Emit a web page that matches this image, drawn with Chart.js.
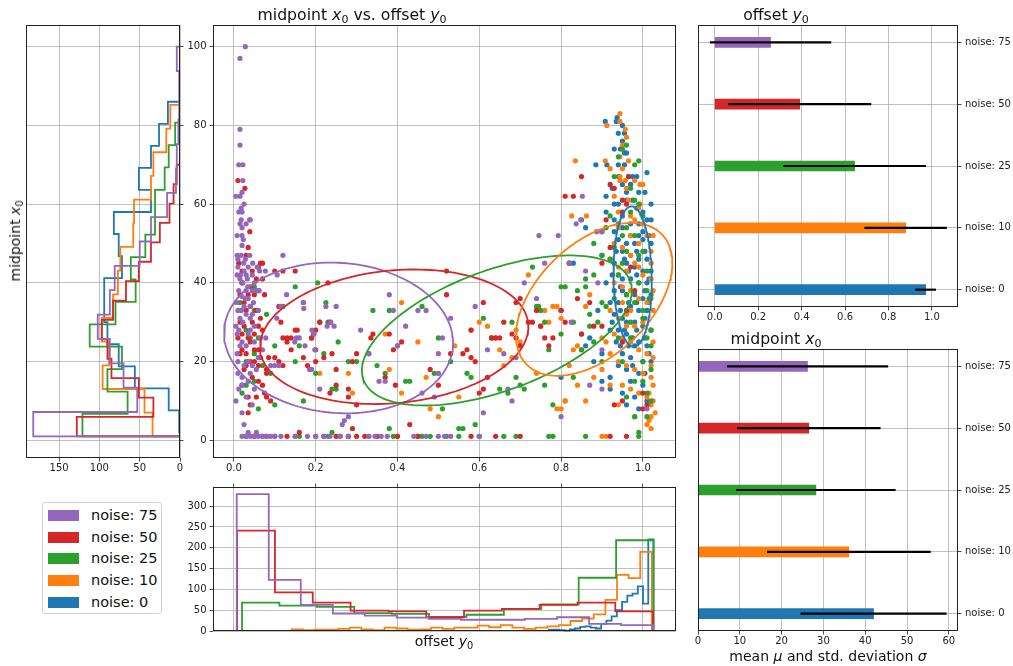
<!DOCTYPE html>
<html>
<head>
<meta charset="utf-8">
<script src="https://cdn.jsdelivr.net/npm/chart.js@4.4.0/dist/chart.umd.min.js"></script>
<style>
  html, body { margin: 0; padding: 0; background: #fff; }
  #fig { position: relative; width: 1013px; height: 666px; overflow: hidden;
         font-family: "DejaVu Sans", sans-serif; color: #111; }
  #fig canvas { position: absolute; left: 0; top: 0; }
  .txt { position: absolute; white-space: nowrap; transform: translate(-50%, -50%); line-height: 1; }
  .ttl { font-size: 15.7px; }
  .lbl { font-size: 14px; }
  .txt i { font-style: italic; }
  .txt sub { font-size: 0.7em; vertical-align: -0.3em; line-height: 0; }
  #ylab { transform: translate(-50%, -50%) rotate(-90deg); }
  #legend { position: absolute; left: 42px; top: 502px; width: 120px; height: 112px;
            border: 1px solid #d0d0d0; border-radius: 3px; background: #fff; box-sizing: border-box; }
  .row { position: absolute; left: 5px; height: 14px; font-size: 14.5px; }
  .sw { position: absolute; left: 0; top: 1px; width: 31px; height: 11px; }
  .row span { position: absolute; left: 43px; top: -2px; white-space: nowrap; color: #111; }
</style>
</head>
<body>
<div id="fig">
  <canvas id="cLeft" width="1013" height="666"></canvas>
  <canvas id="cMain" width="1013" height="666"></canvas>
  <canvas id="cBottom" width="1013" height="666"></canvas>
  <canvas id="cOffset" width="1013" height="666"></canvas>
  <canvas id="cMid" width="1013" height="666"></canvas>

  <div class="txt ttl" style="left:352px; top:15px;">midpoint <i>x</i><sub>0</sub> vs. offset <i>y</i><sub>0</sub></div>
  <div class="txt ttl" style="left:776px; top:15px;">offset <i>y</i><sub>0</sub></div>
  <div class="txt ttl" style="left:776px; top:339px;">midpoint <i>x</i><sub>0</sub></div>
  <div id="ylab" class="txt lbl" style="left:15px; top:241px;">midpoint <i>x</i><sub>0</sub></div>
  <div class="txt lbl" style="left:444px; top:641px;">offset <i>y</i><sub>0</sub></div>
  <div class="txt lbl" style="left:828px; top:656px;">mean <i>μ</i> and std. deviation <i>σ</i></div>

  <div id="legend"></div>
</div>

<script>
// ---- categories -------------------------------------------------------
const noiseLevels = [0, 10, 25, 50, 75];
const noiseLabels = noiseLevels.map(n => 'noise: ' + n);
const noiseColors = ['#1f77b4', '#ff7f0e', '#2ca02c', '#d62728', '#9467bd'];

// ---- summary statistics (mean / std) ----------------------------------
const offsetMean = [0.971, 0.879, 0.644, 0.391, 0.257];
const offsetStd  = [0.046, 0.188, 0.327, 0.328, 0.278];
const midMean    = [42.0, 36.1, 28.2, 26.5, 26.2];
const midStd     = [17.4, 19.5, 19.0, 17.1, 19.2];

// ---- histograms of offset y0 (range + counts per noise level) ---------
const offsetHistRange = [[0.77, 1.026], [0.141, 1.022], [0.02, 1.026], [0.008, 1.025], [0.007, 1.025]];
const offsetHist0  = [3, 3, 2, 1, 4, 6, 10, 11, 8, 6, 17, 25, 35, 50, 70, 85, 90, 107, 66, 220];
const offsetHist10 = [4, 2, 3, 3, 5, 8, 4, 2, 8, 6, 3, 4, 8, 5, 8, 8, 13, 9, 14, 8, 5, 8, 11, 14, 24, 30, 40, 75, 135, 127, 190];
const offsetHist25 = [68, 61, 58, 43, 41, 34, 39, 53, 64, 128, 218];
const offsetHist50 = [241, 93, 68, 49, 47, 33, 49, 53, 63, 68, 47];
const offsetHist75 = [329, 123, 63, 42, 37, 32, 29, 27, 27, 29, 33, 17, 14];

// ---- histograms of midpoint x0 ----------------------------------------
const midHistRange = [[2, 86], [1, 85.2], [1, 80.7], [1, 70], [1, 100]];
const midHist0  = [1, 14, 56, 76, 90, 94, 94, 72, 76, 82, 36, 51, 36, 26, 15];
const midHist10 = [34, 44, 96, 88, 97, 83, 77, 74, 58, 57, 36, 33, 17, 12];
const midHist25 = [121, 65, 90, 72, 112, 80, 55, 61, 43, 31, 31, 19, 14, 6];
const midHist50 = [128, 33, 51, 85, 90, 97, 83, 67, 51, 36, 25, 13, 8, 4];
const midHist75 = [182, 53, 70, 87, 102, 87, 81, 50, 36, 16, 5, 4, 2, 1, 1, 4];

// ---- covariance ellipses: centre (y0, x0), half-extent along y0, and x0 components
const ellCx = [0.975, 0.881, 0.643, 0.392, 0.256];
const ellCy = [41.6, 35.8, 27.9, 26.3, 26.0];
const ellA  = [0.047, 0.191, 0.330, 0.328, 0.280];
const ellB  = [-1.0, 9.2, 10.2, 2.54, -1.27];
const ellC  = [17.8, 17.1, 16.1, 16.9, 19.1];

// ---- fitted (offset y0, midpoint x0) pairs ----------------------------
const fits0 = [
  [0.908,81],[0.935,81],[0.937,82],[0.94,78],[0.955,78],[0.95,76],[0.945,74],[0.955,73],[0.96,73],[0.885,70],
  [0.912,70],[0.94,70],[0.955,70],[0.94,67],[0.965,67],[0.975,67],[0.985,67],[1.01,68],[0.91,62],[0.925,64],
  [0.95,65],[0.97,65],[1.005,63],[0.93,60],[0.96,61],[0.975,61],[0.91,58],[1.0,58],[0.93,56],[0.85,56],
  [0.86,54],[0.9,53],[0.93,53],[0.95,54],[0.97,52],[0.99,55],[1.01,56],[1.02,56],
  [0.94,51],[0.96,50],[0.98,50],[1.0,51],[1.02,50],[0.95,48],[0.97,47],[0.99,46],[1.01,46],[0.93,45],
  [0.96,45],[0.98,44],[1.0,43],[1.02,43],[0.94,42],[0.95,41],[0.97,41],[0.99,40],[1.01,40],[0.93,38],
  [0.95,38],[0.96,37],[0.98,37],[1.0,36],[1.02,37],[0.92,35],[0.94,35],[0.97,34],[0.99,33],[1.01,33],
  [0.93,32],[0.95,31],[0.96,30],[0.98,30],[1.0,29],[1.02,28],[0.94,28],[0.96,27],[0.975,26],[0.99,25],
  [0.965,24],[0.98,24],[1.01,24],[0.95,22],[0.97,21],[1.0,20],[1.02,20],[0.94,19],[0.96,18],[0.99,17],
  [0.92,16],[0.97,15],[1.0,14],[0.95,12],[0.98,11],[1.01,10],[0.99,8],[0.96,9],
  [0.9,22],[0.88,20],[0.86,24],[0.87,26],[0.85,27],[0.9,15],[0.8,16],[0.92,13],[0.83,45],[0.92,28],
  [0.89,33],[0.91,40],[0.9,47],
  [0.935,48],[0.955,46],[0.985,48],[1.005,48],[1.015,52],[0.925,42],[0.945,39],[0.965,43],[0.985,42],[1.005,38],
  [1.015,41],[0.925,30],[0.945,33],[0.965,35],[0.985,35],[1.005,31],[1.015,35],[0.935,25],[0.955,28],[0.985,28],
  [1.005,26],[1.015,22],[0.945,24],[0.975,19],[1.005,17],[0.95,57],[0.97,55],[0.99,52],[1.0,53],[0.94,60],
  [0.985,59],[1.02,60],[0.96,63],[0.99,63],[0.93,74],[0.95,80]
];
const fits10 = [
  [0.21,17],[0.28,17],[0.29,12],[0.37,27],[0.38,18],[0.41,12],[0.41,35],[0.45,25],[0.47,16],[0.48,8],
  [0.5,17],[0.5,6],[0.54,24],[0.55,11],[0.58,28],[0.6,30],[0.62,29],[0.64,26],[0.65,23],[0.66,19],
  [0.68,21],[0.69,28],[0.7,25],[0.72,42],[0.74,17],[0.75,29],[0.76,33],[0.77,30],[0.78,34],[0.79,34],
  [0.8,31],[0.81,10],[0.79,8],[0.82,19],[0.83,23],[0.84,24],[0.85,23],[0.86,34],[0.87,37],[0.84,14],
  [0.86,10],[0.88,16],[0.9,26],[0.9,18],[0.91,25],[0.92,14],
  [0.835,71],[0.912,80],[0.944,83],[0.944,81],[0.957,79],[0.908,71],[0.944,72],[0.965,71],[0.944,67],[0.944,66],
  [0.957,66],[0.826,57],[0.862,57],[0.94,58],[0.965,61],[0.993,60],[0.99,59],[0.993,65],[1.0,65],[1.0,55],
  [0.95,69],[0.97,57],
  [0.93,50],[0.95,49],[0.97,52],[0.99,50],[1.01,52],[1.02,48],[0.92,46],[0.94,44],[0.96,43],[0.98,45],
  [1.0,42],[1.02,41],[0.93,40],[0.95,39],[0.97,38],[0.99,36],[1.01,35],[1.025,33],[0.92,33],[0.94,31],
  [0.96,32],[0.98,29],[1.0,30],[1.02,28],[0.93,27],[0.95,26],[0.97,25],[0.99,23],[1.01,22],[1.025,21],
  [0.92,22],[0.94,20],[0.96,19],[0.98,18],[1.0,17],[1.02,16],[1.025,14],[0.95,14],[0.97,13],[0.99,12],
  [1.01,11],[1.02,9],[1.03,7],[1.015,5],[1.02,3],[0.98,6],[0.94,9],
  [0.9,1],[0.91,1],[0.81,10],[0.8,8],
  [1.025,52],[1.02,45],[1.025,38],[1.02,36],[1.025,25],[1.02,19],[1.015,12],[1.025,10],[1.02,6],[1.01,4],
  [0.97,47],[0.99,44],[0.95,35],[0.97,33],[0.96,29],[0.94,54],[0.98,56],[0.93,62],[0.96,64],[0.98,66],
  [0.92,69],[0.95,75],[0.96,77]
];
const fits25 = [
  [0.02,40],[0.05,39],[0.015,35],[0.05,33],[0.08,32],[0.03,28],[0.04,26],[0.06,26],[0.05,22],[0.03,20],
  [0.07,19],[0.09,17],[0.05,15],[0.03,14],[0.02,12],[0.06,8],[0.1,9],[0.1,24],[0.12,34],[0.15,39],
  [0.16,24],[0.15,20],[0.17,10],[0.19,26],[0.195,27],[0.2,17],[0.205,40],[0.21,30],[0.22,22],[0.225,35],
  [0.23,30],[0.24,13],[0.25,13],[0.255,25],[0.28,20],[0.3,20],[0.33,22],[0.34,33],[0.35,19],[0.37,17],
  [0.38,33],[0.38,3],[0.4,24],[0.42,15],[0.43,15],[0.46,34],[0.49,17],[0.5,26],[0.51,8],[0.53,20],
  [0.55,3],[0.56,3],[0.57,17],[0.58,16],[0.59,4],[0.61,31],[0.63,26],[0.65,13],[0.67,12],[0.68,30],
  [0.69,16],[0.7,14],[0.71,13],[0.73,44],[0.74,34],[0.745,34],[0.75,33],[0.76,14],[0.77,23],[0.78,9],
  [0.8,39],[0.81,39],[0.8,33],[0.82,45],[0.83,16],[0.84,38],[0.85,23],[0.86,41],[0.87,32],[0.87,29],
  [0.88,25],[0.89,30],[0.9,47],[0.91,34],[0.92,46],[0.93,49],[0.93,36],[0.94,42],[0.95,45],[0.96,37],
  [0.97,30],[0.98,35],[0.99,40],[1.0,20],[1.01,26],[1.02,28],[0.95,52],[0.96,54],[0.97,58],[0.98,61],
  [0.99,60],[1.0,57],[0.93,67],[0.95,74],[0.96,75],[0.94,72],[0.97,64],[0.98,70],[0.99,71],[1.0,48],
  [1.01,43],[1.0,15],[1.01,12],[1.01,6],[0.99,2],[0.98,6],[1.02,18],[1.015,36],[0.92,57],[0.91,54],
  [0.88,50],[0.86,39],[0.9,20],[0.94,26],[1.02,24],[1.02,10],[1.0,33],
  [0.96,48],[0.98,52],[0.94,55],[0.99,47],[1.01,38],[1.0,31],[0.97,26],[0.95,20],[0.98,15],[0.96,11],
  [0.9,35],[0.88,42],[0.83,30],[0.8,27],[0.76,30],
  [0.03,1],[0.05,1],[0.15,1],[0.16,1],[0.23,1],[0.24,2],[0.26,1],[0.28,1],[0.33,1],[0.39,1],
  [0.4,1],[0.45,1],[0.46,1],[0.48,1],[0.52,1],[0.55,1],[0.6,1],[0.66,1],[0.69,1],[0.77,1],
  [0.78,1],[0.86,1],[0.99,1]
];
const fits50 = [
  [0.01,66],[0.027,64],[0.039,56],[0.039,53],[0.035,49],[0.03,47],[0.012,45],[0.065,45],[0.07,45],[0.06,44],
  [0.07,41],[0.02,40],[0.04,39],[0.06,38],[0.035,37],[0.05,37],[0.075,37],[0.025,35],[0.04,34],[0.015,30],
  [0.06,29],[0.025,29],[0.07,28],[0.01,26],[0.04,25],[0.02,23],[0.05,23],[0.06,23],[0.03,22],[0.015,22],
  [0.04,20],[0.05,20],[0.06,19],[0.08,18],[0.08,17],[0.06,15],[0.035,11],[0.08,11],[0.09,10],[0.035,7],
  [0.075,12],[0.03,19],[0.045,30],
  [0.02,43],[0.045,43],[0.055,41],[0.015,37],[0.03,33],[0.055,33],[0.065,31],[0.02,27],[0.05,27],[0.035,26],
  [0.065,21],[0.025,18],[0.045,16],[0.02,14],[0.07,14],[0.055,11],[0.04,9],[0.085,21],
  [0.1,43],[0.12,43],[0.15,43],[0.11,34],[0.115,30],[0.12,26],[0.13,26],[0.14,26],[0.15,28],[0.155,28],
  [0.13,25],[0.14,23],[0.1,21],[0.11,20],[0.12,19],[0.17,21],[0.18,19],[0.2,23],[0.21,30],[0.2,28],
  [0.19,26],[0.17,35],[0.22,21],[0.2,20],[0.23,40],[0.235,30],[0.24,22],[0.25,18],[0.25,14],[0.235,12],
  [0.28,13],[0.28,11],[0.29,20],[0.3,22],[0.335,26],[0.34,27],[0.37,16],[0.38,27],[0.39,23],[0.395,14],
  [0.41,25],[0.43,4],[0.48,18],[0.5,14],[0.52,43],[0.52,37],[0.53,22],[0.56,22],[0.57,23],[0.58,28],
  [0.59,20],[0.6,12],[0.61,13],[0.61,35],[0.62,16],[0.64,26],[0.65,26],[0.68,27],[0.69,26],[0.7,24],
  [0.7,36],[0.72,30],[0.73,30],[0.74,33],[0.75,29],[0.76,26],[0.77,24],[0.78,26],[0.8,33],[0.81,30],
  [0.82,45],[0.84,36],[0.85,27],[0.87,35],[0.88,29],[0.9,29],[0.85,67],[0.83,62],[0.81,62],[0.91,56],
  [0.92,49],[0.95,25],[0.96,33],[0.93,64],[0.92,65],[0.96,60],[0.95,61],[0.9,45],[0.97,44],[0.98,38],
  [1.0,12],[1.01,9],[1.0,8],[0.95,10],[0.93,9],[0.965,67],[0.95,58],[0.69,35],[0.66,30],[0.58,21],
  [0.63,26],[0.29,3],[0.3,9],
  [0.05,1],[0.07,1],[0.08,1],[0.1,1],[0.13,1],[0.16,2],[0.2,1],[0.22,1],[0.25,1],[0.28,1],
  [0.3,1],[0.32,1],[0.35,1],[0.4,1],[0.45,1],[0.58,1],[0.64,1],[0.7,1],[0.92,1],[0.96,1]
];
const fits75 = [
  [0.028,100],[0.015,97],[0.015,79],[0.015,75],[0.012,70],[0.022,70],[0.022,66],[0.02,63],[0.005,62],[0.015,62],
  [0.018,59],[0.02,58],[0.04,56],[0.018,56],[0.015,55],[0.02,54],[0.02,52],[0.023,51],[0.02,49.5],[0.008,47],
  [0.018,47],[0.039,47],[0.01,46],[0.024,45],[0.046,45],[0.057,44],[0.063,43],[0.077,43],[0.016,42],[0.03,42],
  [0.022,40],[0.034,39],[0.062,38],[0.045,38],[0.055,38],[0.02,36.5],[0.048,35],[0.01,33],[0.03,32],[0.005,29],
  [0.012,28],[0.008,27],[0.04,28],[0.02,25],[0.008,22],[0.035,20],[0.045,19],[0.09,19],[0.1,19],[0.11,19],
  [0.078,26],[0.07,23],[0.02,16],[0.035,15],[0.02,14],[0.05,13],[0.005,10],[0.02,7],[0.025,4],[0.03,38],
  [0.035,36],[0.025,34],[0.04,31],[0.05,29],[0.06,33],[0.065,26],[0.01,17],[0.015,31],[0.033,41],[0.045,42],
  [0.01,44],[0.015,41],[0.028,46],[0.035,44],[0.025,43],[0.012,38],[0.028,36],[0.04,34],[0.006,35],[0.018,33],
  [0.045,32],[0.022,30],[0.035,27],[0.05,25],[0.015,24],[0.03,24],[0.01,20],[0.025,19],[0.04,17],[0.055,18],
  [0.06,21],[0.012,13],[0.03,11],[0.045,9],[0.008,52],[0.03,55],[0.012,58],[0.025,60],[0.008,42],[0.05,40],
  [0.02,1],[0.03,1],[0.035,2],[0.04,1],[0.05,1],[0.055,2],[0.06,1],[0.07,1],[0.08,1],[0.09,1],
  [0.1,1],[0.115,1],[0.15,1],[0.18,1],[0.2,1],[0.22,1],[0.235,1],[0.26,1],[0.28,1],[0.33,1],
  [0.345,1],[0.36,1],[0.375,1],[0.44,1],[0.47,1],[0.5,1],[0.515,1],[0.53,1],
  [0.106,42],[0.129,37],[0.115,34],[0.171,33.5],[0.225,34],[0.228,29],[0.237,30],[0.25,34],[0.245,29],[0.191,28],
  [0.196,27],[0.153,26],[0.16,26],[0.149,25],[0.198,23],[0.174,24],[0.12,47],[0.105,31],[0.185,18],[0.19,18],
  [0.21,13],[0.265,4],[0.27,5],[0.28,6],[0.31,28],[0.33,22],[0.355,15],[0.37,15],[0.38,37],[0.39,33],
  [0.4,24],[0.42,29],[0.45,33],[0.47,33],[0.5,17],[0.51,26],[0.53,31],[0.5,22],[0.46,12],[0.49,11],
  [0.61,7],[0.59,34],[0.62,23],[0.66,22],[0.67,13],[0.68,10],[0.69,21],[0.71,40],[0.74,36],[0.76,45],
  [0.746,52],[0.793,52],[0.852,62],[0.837,55],[0.848,56],[0.82,45],[0.86,43],[0.89,40],[0.825,30],[0.87,14],
  [0.9,13],[1.01,8],[0.887,53],[0.9,53],[0.9,23],[0.8,6],[0.6,1],[0.17,35]
];

// ---- tick values ------------------------------------------------------
const offsetTicks = [0, 0.2, 0.4, 0.6, 0.8, 1.0];
const midTicks = [0, 20, 40, 60, 80, 100];
const countTicksLeft = [0, 50, 100, 150];
const countTicksBottom = [0, 50, 100, 150, 200, 250, 300];
const meanTicks = [0, 10, 20, 30, 40, 50, 60];
const barIndexTicks = [0, 1, 2, 3, 4];

const offsetHists = [offsetHist0, offsetHist10, offsetHist25, offsetHist50, offsetHist75];
const midHists = [midHist0, midHist10, midHist25, midHist50, midHist75];
const fitSets = [fits0, fits10, fits25, fits50, fits75];

// ---------------------------------------------------------------------
Chart.defaults.font.family = 'DejaVu Sans';
Chart.defaults.font.size = 10;
Chart.defaults.color = '#222';

const GRID = '#b0b0b0';
const INK = '#222';

// frame (all four spines) around each plotting area
const framePlugin = {
  id: 'frame',
  afterDatasetsDraw(chart) {
    const { ctx, chartArea: a } = chart;
    ctx.save();
    ctx.strokeStyle = INK;
    ctx.lineWidth = 1;
    ctx.strokeRect(Math.round(a.left) + 0.5, Math.round(a.top) + 0.5,
                   Math.round(a.right - a.left) - 1, Math.round(a.bottom - a.top) - 1);
    ctx.restore();
  }
};

const setTicks = vals => scale => { scale.ticks = vals.map(v => ({ value: v })); };
const fixW = w => s => { s.width = w; };
const fixH = h => s => { s.height = h; };
const gridOpts = { color: GRID, lineWidth: 0.8, tickLength: 3.5, tickColor: INK, tickWidth: 0.8, offset: false };

function baseOptions(padding) {
  return {
    responsive: false, animation: false, events: [],
    layout: { padding },
    plugins: { legend: { display: false }, tooltip: { enabled: false } }
  };
}

// bin edges of an equal-width histogram
function binEdges(range, n) {
  const w = (range[1] - range[0]) / n;
  const e = [];
  for (let i = 0; i <= n; i++) e.push(range[0] + i * w);
  return e;
}

// outline of a step histogram along the offset axis
function stepOutlineX(range, counts) {
  const e = binEdges(range, counts.length);
  const pts = [{ x: e[0], y: 0 }];
  counts.forEach((c, i) => { pts.push({ x: e[i], y: c }); pts.push({ x: e[i + 1], y: c }); });
  pts.push({ x: e[counts.length], y: 0 });
  return pts;
}
// outline of a step histogram along the midpoint axis (horizontal bars)
function stepOutlineY(range, counts) {
  const e = binEdges(range, counts.length);
  const pts = [{ x: 0, y: e[0] }];
  counts.forEach((c, i) => { pts.push({ x: c, y: e[i] }); pts.push({ x: c, y: e[i + 1] }); });
  pts.push({ x: 0, y: e[counts.length] });
  return pts;
}
function ellipsePoints(i) {
  const pts = [];
  for (let k = 0; k <= 160; k++) {
    const t = 2 * Math.PI * k / 160;
    pts.push({ x: ellCx[i] + ellA[i] * Math.cos(t),
               y: ellCy[i] + ellB[i] * Math.cos(t) + ellC[i] * Math.sin(t) });
  }
  return pts;
}
const lineDS = (data, color, order) => ({
  data, showLine: true, borderColor: color, borderWidth: 1.8, pointRadius: 0,
  fill: false, tension: 0, order, clip: false
});

// ---------------- left: histogram of midpoint x0 ----------------------
new Chart(document.getElementById('cLeft'), {
  type: 'scatter',
  data: { datasets: noiseLevels.map((n, i) =>
    lineDS(stepOutlineY(midHistRange[i], midHists[i]), noiseColors[i], 5 - i)) },
  options: Object.assign(baseOptions({ left: 26, right: 1013 - 180 - 4, top: 25, bottom: 666 - 458 - 25 }), {
    scales: {
      x: { type: 'linear', min: 0, max: 191, reverse: true,
           afterBuildTicks: setTicks(countTicksLeft), afterFit: fixH(25),
           grid: gridOpts, border: { display: false },
           ticks: { color: INK, padding: 1, maxRotation: 0 } },
      y: { type: 'linear', position: 'right', min: -4.5, max: 105.5,
           afterBuildTicks: setTicks(midTicks), afterFit: fixW(4),
           grid: gridOpts, border: { display: false }, ticks: { display: false } }
    }
  }),
  plugins: [framePlugin]
});

// ---------------- centre: scatter with covariance ellipses ------------
const mainSets = [];
noiseLevels.forEach((n, i) => mainSets.push(lineDS(ellipsePoints(i), noiseColors[i], 0)));
noiseLevels.forEach((n, i) => mainSets.push({
  data: fitSets[i].map(p => ({ x: p[0], y: p[1] })),
  backgroundColor: noiseColors[i], borderWidth: 0, pointRadius: 2.6, order: 5 - i + 1
}));
new Chart(document.getElementById('cMain'), {
  type: 'scatter',
  data: { datasets: mainSets },
  options: Object.assign(baseOptions({ left: 213 - 40, right: 1013 - 676, top: 25, bottom: 666 - 458 - 25 }), {
    scales: {
      x: { type: 'linear', min: -0.051, max: 1.081,
           afterBuildTicks: setTicks(offsetTicks), afterFit: fixH(25),
           grid: gridOpts, border: { display: false },
           ticks: { color: INK, padding: 1, maxRotation: 0, callback: v => v.toFixed(1) } },
      y: { type: 'linear', min: -4.5, max: 105.5,
           afterBuildTicks: setTicks(midTicks), afterFit: fixW(40),
           grid: gridOpts, border: { display: false },
           ticks: { color: INK, padding: 3 } }
    }
  }),
  plugins: [framePlugin]
});

// ---------------- bottom: histogram of offset y0 -----------------------
new Chart(document.getElementById('cBottom'), {
  type: 'scatter',
  data: { datasets: noiseLevels.map((n, i) =>
    lineDS(stepOutlineX(offsetHistRange[i], offsetHists[i]), noiseColors[i], 5 - i)) },
  options: Object.assign(baseOptions({ left: 213 - 40, right: 1013 - 676, top: 487 - 4, bottom: 666 - 631 }), {
    scales: {
      x: { type: 'linear', position: 'top', min: -0.051, max: 1.081,
           afterBuildTicks: setTicks(offsetTicks), afterFit: fixH(4),
           grid: gridOpts, border: { display: false }, ticks: { display: false } },
      y: { type: 'linear', min: 0, max: 346,
           afterBuildTicks: setTicks(countTicksBottom), afterFit: fixW(40),
           grid: gridOpts, border: { display: false },
           ticks: { color: INK, padding: 3 } }
    }
  }),
  plugins: [framePlugin]
});

// ---------------- right: mean ± std bars -------------------------------
function barChart(id, means, stds, area, xMin, xMax, xTicks, fmt) {
  new Chart(document.getElementById(id), {
    type: 'bar',
    data: { datasets: [
      { data: noiseLevels.map((n, i) => ({ x: [means[i] - stds[i], means[i] + stds[i]], y: i })),
        backgroundColor: '#000', barThickness: 1.5, grouped: false, order: 0 },
      { data: noiseLevels.map((n, i) => ({ x: means[i], y: i })),
        backgroundColor: noiseColors, barThickness: 10, grouped: false, order: 1 }
    ] },
    options: Object.assign(baseOptions({ left: area.left, right: 0, top: area.top, bottom: 666 - area.bottom - 25 }), {
      indexAxis: 'y',
      scales: {
        x: { type: 'linear', min: xMin, max: xMax,
             afterBuildTicks: setTicks(xTicks), afterFit: fixH(25),
             grid: gridOpts, border: { display: false },
             ticks: { color: INK, padding: 1, maxRotation: 0, callback: fmt } },
        y: { type: 'linear', position: 'right', min: -0.28, max: 4.28, offset: false,
             afterBuildTicks: setTicks(barIndexTicks), afterFit: fixW(1013 - area.right),
             grid: gridOpts, border: { display: false },
             ticks: { color: INK, padding: 3.5, callback: v => noiseLabels[v] } }
      }
    }),
    plugins: [framePlugin]
  });
}
barChart('cOffset', offsetMean, offsetStd, { left: 698, right: 958, top: 25, bottom: 307 },
         -0.077, 1.12, offsetTicks, v => v.toFixed(1));
barChart('cMid', midMean, midStd, { left: 698, right: 958, top: 349, bottom: 631 },
         0, 62.2, meanTicks, v => String(v));

// ---------------- legend -----------------------------------------------
const legend = document.getElementById('legend');
[4, 3, 2, 1, 0].forEach((i, r) => {
  const row = document.createElement('div');
  row.className = 'row';
  row.style.top = (6 + r * 21.7) + 'px';
  row.innerHTML = '<div class="sw" style="background:' + noiseColors[i] + '"></div><span>' + noiseLabels[i] + '</span>';
  legend.appendChild(row);
});
</script>
</body>
</html>
